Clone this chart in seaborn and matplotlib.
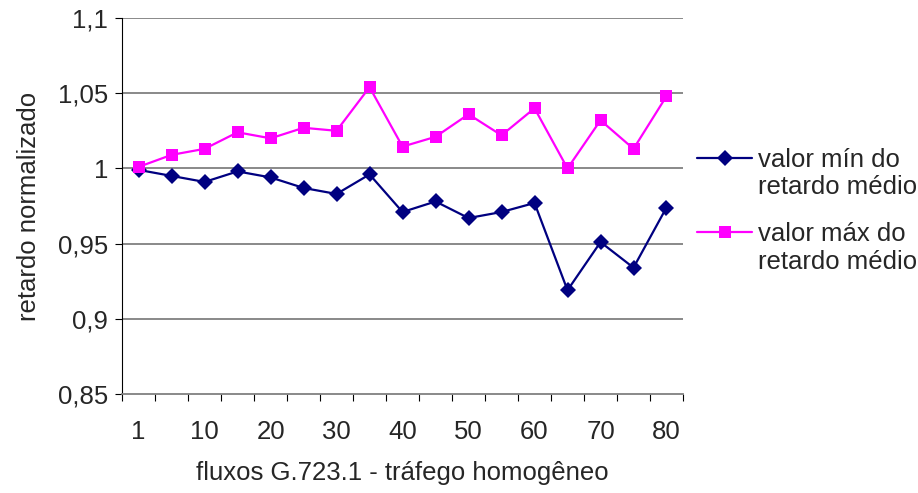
import numpy as np
import pandas as pd
import matplotlib
matplotlib.use("Agg")
import matplotlib.pyplot as plt
import seaborn as sns
from matplotlib.legend_handler import HandlerLine2D

fluxos = [1, 5, 10, 15, 20, 25, 30, 35, 40, 45, 50, 55, 60, 65, 70, 75, 80]
valor_min = [0.999, 0.995, 0.991, 0.998, 0.994, 0.987, 0.983, 0.996, 0.971,
             0.978, 0.967, 0.971, 0.977, 0.919, 0.951, 0.934, 0.974]
valor_max = [1.001, 1.009, 1.013, 1.024, 1.020, 1.027, 1.025, 1.054, 1.0145,
             1.021, 1.036, 1.022, 1.040, 1.000, 1.032, 1.013, 1.048]
serie_nomes = ["valor mín do\nretardo médio", "valor máx do\nretardo médio"]
y_ticks = [0.85, 0.9, 0.95, 1.0, 1.05, 1.1]
y_labels = ["0,85", "0,9", "0,95", "1", "1,05", "1,1"]


class HandlerTopo(HandlerLine2D):
    # legend marker aligned with the first line of a two-line label
    def create_artists(self, legend, orig_handle, xdescent, ydescent,
                       width, height, fontsize, trans):
        artists = super().create_artists(legend, orig_handle, xdescent, ydescent,
                                         width, height, fontsize, trans)
        for a in artists:
            a.set_ydata(np.asarray(a.get_ydata()) + fontsize * 0.62)
        return artists


pos = np.arange(len(fluxos))
df = pd.concat([
    pd.DataFrame({"pos": pos, "valor": valor_min, "serie": serie_nomes[0]}),
    pd.DataFrame({"pos": pos, "valor": valor_max, "serie": serie_nomes[1]}),
])

sns.set_style("white")
plt.rcParams["font.family"] = ["Liberation Sans", "DejaVu Sans"]
fs = 18.5

fig = plt.figure(figsize=(9.18, 4.93), dpi=100)
ax = fig.add_axes([0.133, 0.2008, 0.611, 0.7627])

sns.lineplot(data=df, x="pos", y="valor", hue="serie", style="serie",
             palette=["#000080", "#FF00FF"], markers=["D", "s"], dashes=False,
             markersize=8.5, markeredgewidth=0, linewidth=1.6, ax=ax)

for y in y_ticks[1:]:
    ax.axhline(y, color="#808080", lw=1.3, zorder=0)

ax.set_ylim(0.85, 1.1)
ax.set_xlim(-0.5, len(fluxos) - 0.5)
ax.set_yticks(y_ticks)
ax.set_yticklabels(y_labels, fontsize=fs)
ax.set_xticks(pos[::2])
ax.set_xticklabels([str(f) for f in fluxos[::2]], fontsize=fs)
ax.set_xticks(np.arange(-0.5, len(fluxos)), minor=True)
ax.tick_params(axis="x", which="major", length=0, pad=19)
ax.tick_params(axis="x", which="minor", length=5, color="#000000", width=0.8, bottom=True)
ax.tick_params(axis="y", length=5, width=0.8, color="#000000", left=True, pad=5)

for s in ["top", "right"]:
    ax.spines[s].set_visible(False)
ax.spines["left"].set_color("#000000")
ax.spines["left"].set_linewidth(0.8)
ax.spines["bottom"].set_color("#808080")
ax.spines["bottom"].set_linewidth(1.3)

ax.set_xlabel("fluxos G.723.1 - tráfego homogêneo", fontsize=fs, labelpad=12)
ax.set_ylabel("retardo normalizado", fontsize=fs, labelpad=12)

handles, labels = ax.get_legend_handles_labels()
ax.legend(handles, labels, loc="upper left", bbox_to_anchor=(1.0, 0.693),
          frameon=False, fontsize=fs, handlelength=2.15, handletextpad=0.2,
          labelspacing=0.87, borderpad=0, borderaxespad=0.55,
          handler_map={h: HandlerTopo() for h in handles})

fig.savefig("out.png", dpi=100)
